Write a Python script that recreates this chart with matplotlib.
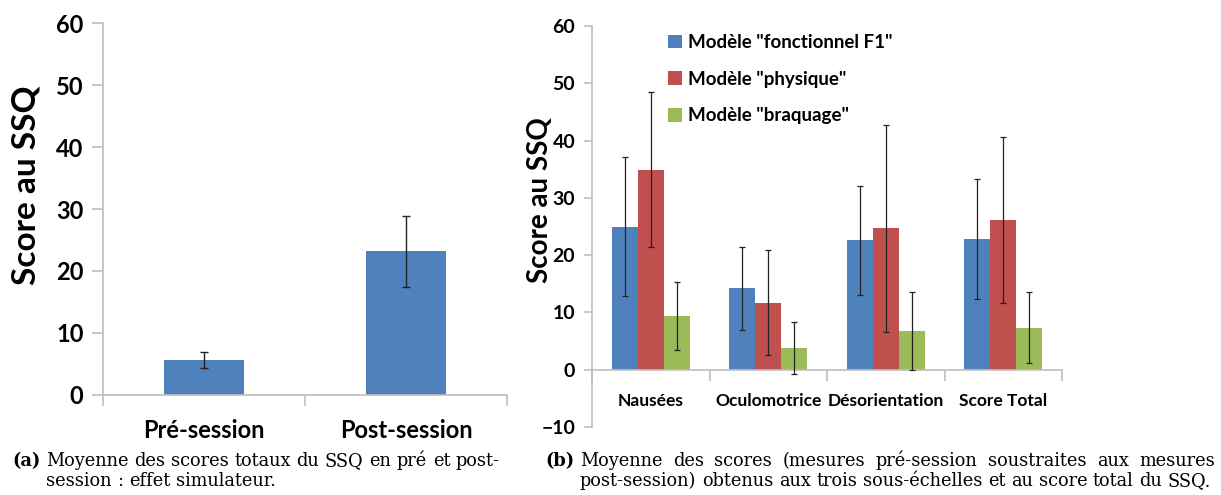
import numpy as np
import matplotlib
matplotlib.use("Agg")
import matplotlib.pyplot as plt
from matplotlib.patches import Patch

W, H = 1221, 495

# (a) pre / post session
session_labels = ["Pré-session", "Post-session"]
session_means = [5.65, 23.2]
session_err = [1.35, 5.7]

# (b) sub-scales per model
categories = ["Nausées", "Oculomotrice", "Désorientation", "Score Total"]
model_names = ['Modèle "fonctionnel F1"', 'Modèle "physique"', 'Modèle "braquage"']
f1_means = [25.0, 14.2, 22.6, 22.8]
f1_err = [12.2, 7.3, 9.5, 10.5]
phys_means = [34.9, 11.7, 24.7, 26.1]
phys_err = [13.5, 9.2, 18.1, 14.5]
braq_means = [9.4, 3.8, 6.8, 7.3]
braq_err = [5.9, 4.5, 6.8, 6.2]

colors = ["#4f81bd", "#c0504d", "#9bbb59"]
axis_gray = "#bfbfbf"
sans = "Lato"
serif = "DejaVu Serif"

fig = plt.figure(figsize=(W / 100, H / 100), dpi=100)


def px_axes(left, top, right, bottom):
    return fig.add_axes([left / W, 1 - bottom / H, (right - left) / W, (bottom - top) / H])


def style_axes(ax, size):
    for s in ["top", "right"]:
        ax.spines[s].set_visible(False)
    for s in ["left", "bottom"]:
        ax.spines[s].set_color(axis_gray)
        ax.spines[s].set_linewidth(1.2)
    ax.tick_params(axis="y", which="major", color=axis_gray, width=1.2, length=8, direction="out")
    ax.tick_params(axis="x", which="major", length=0)
    ax.tick_params(axis="x", which="minor", color=axis_gray, width=1.2, length=8, direction="out")
    for lab in ax.get_yticklabels() + ax.get_xticklabels():
        lab.set_fontsize(size)
        lab.set_fontweight("bold")
        lab.set_family(sans)


# ---- panel (a)
ax1 = px_axes(103, 23, 507, 395)
x1 = np.arange(len(session_labels))
ax1.bar(x1, session_means, width=0.4, color=colors[0], zorder=2)
ax1.errorbar(x1, session_means, yerr=session_err, fmt="none", ecolor="#222222",
             elinewidth=1, capsize=3, capthick=1, zorder=3)
ax1.set_xlim(-0.5, 1.5)
ax1.set_ylim(0, 60)
ax1.set_yticks(range(0, 61, 10))
ax1.set_xticks(x1)
ax1.set_xticks([-0.5, 0.5, 1.5], minor=True)
ax1.set_xticklabels(session_labels)
style_axes(ax1, 17)
ax1.tick_params(axis="x", pad=17)
ax1.tick_params(axis="y", pad=6)
ax1.set_ylabel("Score au SSQ", fontsize=24, fontweight="bold", family=sans)
ax1.yaxis.set_label_coords(-0.155, 0.565)

# ---- panel (b)
ax2 = px_axes(592, 26, 1062, 427)
x2 = np.arange(len(categories))
bw = 1 / 4.5
series = [(f1_means, f1_err), (phys_means, phys_err), (braq_means, braq_err)]
for i, (m, e) in enumerate(series):
    pos = x2 + (i - 1) * bw
    ax2.bar(pos, m, width=bw, color=colors[i], label=model_names[i], zorder=2)
    ax2.errorbar(pos, m, yerr=e, fmt="none", ecolor="#222222",
                 elinewidth=0.9, capsize=2.5, capthick=0.9, zorder=3)
ax2.spines["bottom"].set_position(("data", 0))
ax2.set_xlim(-0.5, 3.5)
ax2.set_ylim(-10, 60)
ax2.set_yticks(range(-10, 61, 10))
ax2.set_xticks(x2)
ax2.set_xticks(np.arange(-0.5, 3.6, 1), minor=True)
ax2.set_xticklabels(categories)
style_axes(ax2, 14)
for lab in ax2.get_xticklabels():
    lab.set_fontsize(12.5)
ax2.tick_params(axis="y", length=6, pad=6)
ax2.tick_params(axis="x", pad=17)
ax2.set_ylabel("Score au SSQ", fontsize=20, fontweight="bold", family=sans)
ax2.yaxis.set_label_coords(-0.083, 0.566)

handles = [Patch(facecolor=c) for c in colors]
ax2.legend(handles, model_names, loc="upper left", bbox_to_anchor=(0.162, 0.98),
           frameon=False, borderpad=0, borderaxespad=0,
           handlelength=0.75, handleheight=0.75, handletextpad=0.3,
           labelspacing=1.05, prop={"family": sans, "weight": "bold", "size": 13.5})

# ---- captions (justified by hand, LaTeX-like)
renderer = fig.canvas.get_renderer()
cap_kw = dict(family=serif, fontsize=12.8)


def word_widths(words):
    out = []
    for w in words:
        t = fig.text(0.5, 0.5, w, **cap_kw)
        out.append(t.get_window_extent(renderer).width)
        t.remove()
    return out


def put_line(x0, x1, y, text, justify=True):
    words = text.split(" ")
    widths = word_widths(words)
    space = word_widths(["a a"])[0] - word_widths(["aa"])[0]
    if justify and len(words) > 1:
        gap = (x1 - x0 - sum(widths)) / (len(words) - 1)
    else:
        gap = space
    x = x0
    for w, wd in zip(words, widths):
        fig.text(x / W, 1 - y / H, w, va="baseline", ha="left", **cap_kw)
        x += wd + gap


fig.text(12 / W, 1 - 466 / H, "(a)", va="baseline", family=serif, fontsize=12.8, fontweight="bold")
put_line(46, 500, 466, "Moyenne des scores totaux du SSQ en pré et post-")
put_line(46, 500, 486, "session : effet simulateur.", justify=False)
fig.text(545 / W, 1 - 466 / H, "(b)", va="baseline", family=serif, fontsize=12.8, fontweight="bold")
put_line(580, 1215, 466, "Moyenne des scores (mesures pré-session soustraites aux mesures")
put_line(580, 1215, 486, "post-session) obtenus aux trois sous-échelles et au score total du SSQ.", justify=False)

fig.savefig("out.png", dpi=100)
